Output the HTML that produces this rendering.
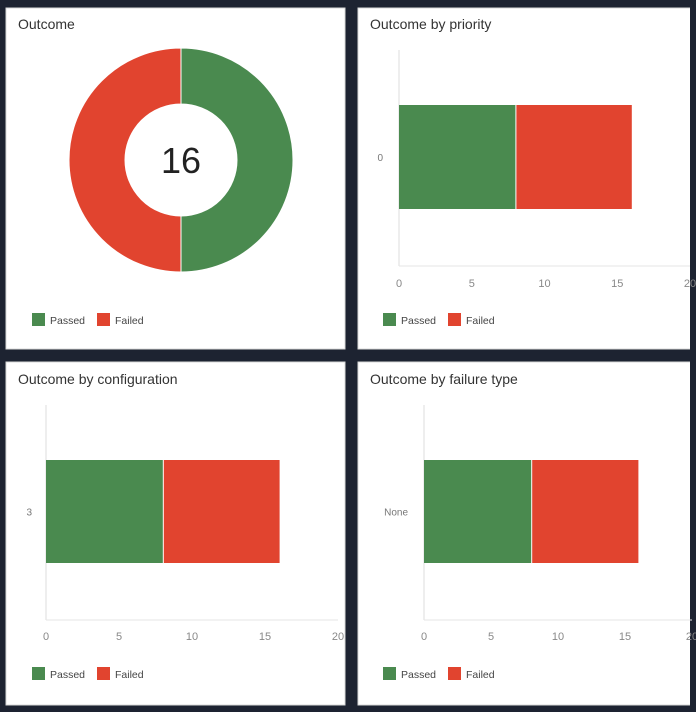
<!DOCTYPE html>
<html><head><meta charset="utf-8">
<style>
body{margin:0;width:696px;height:712px;background:#1d2331;overflow:hidden;font-family:"Liberation Sans",sans-serif}
svg{display:block}
</style></head><body>
<svg id="root" width="696" height="712">
<rect x="0" y="0" width="696" height="712" fill="#1d2331"/>
<rect x="6" y="8" width="339" height="341" fill="#fff" stroke="#d8d8d8"/>
<rect x="358" y="8" width="334" height="341" fill="#fff" stroke="#d8d8d8"/>
<rect x="6" y="362" width="339" height="343" fill="#fff" stroke="#d8d8d8"/>
<rect x="358" y="362" width="334" height="343" fill="#fff" stroke="#d8d8d8"/>
<rect x="690" y="0" width="6" height="712" fill="#1d2331"/>
<text x="18" y="29" font-size="14" fill="#333">Outcome</text>
<text x="370" y="29" font-size="14" fill="#333">Outcome by priority</text>
<text x="18" y="384" font-size="14" fill="#333">Outcome by configuration</text>
<text x="370" y="384" font-size="14" fill="#333">Outcome by failure type</text>
<g id="charts"></g>
</svg>
<script>
const seriesNames = ["Passed", "Failed"];
const seriesColors = ["#4a8a4f", "#e1442f"];
const donutValues = [8, 8];
const totalLabel = "16";
const priorityCategories = ["0"];
const priorityPassed = [8];
const priorityFailed = [8];
const configCategories = ["3"];
const configPassed = [8];
const configFailed = [8];
const failureCategories = ["None"];
const failurePassed = [8];
const failureFailed = [8];
const xTicks = [0, 5, 10, 15, 20];

const NS = "http://www.w3.org/2000/svg";
const g = document.getElementById("charts");
function mk(tag, attrs, parent) {
  const e = document.createElementNS(NS, tag);
  for (const k in attrs) e.setAttribute(k, attrs[k]);
  (parent || g).appendChild(e);
  return e;
}

// Donut
(function () {
  const cx = 181, cy = 160, ro = 112, ri = 56;
  const total = donutValues.reduce((a, b) => a + b, 0);
  let a0 = -Math.PI / 2;
  donutValues.forEach((v, i) => {
    const a1 = a0 + v / total * 2 * Math.PI;
    const large = (a1 - a0) > Math.PI ? 1 : 0;
    const p = (r, a) => [cx + r * Math.cos(a), cy + r * Math.sin(a)];
    const [x0, y0] = p(ro, a0), [x1, y1] = p(ro, a1), [x2, y2] = p(ri, a1), [x3, y3] = p(ri, a0);
    const path = mk("path", { d: `M${x0},${y0} A${ro},${ro} 0 ${large} 1 ${x1},${y1} L${x2},${y2} A${ri},${ri} 0 ${large} 0 ${x3},${y3} Z`, fill: seriesColors[i], stroke: "#fff", "stroke-width": 1 });
    
    
    a0 = a1;
  });
  const t = mk("text", { x: cx, y: cy + 13, "text-anchor": "middle", "font-size": 36, fill: "#222" });
  t.textContent = totalLabel;
  
  
})();

function legend(x, y) {
  seriesNames.forEach((n, i) => {
    const ox = x + i * 65;
    const r = mk("rect", { x: ox, y: y - 7, width: 13, height: 13, fill: seriesColors[i] });
    
    
    const t = mk("text", { x: ox + 18, y: y + 4, "font-size": 10.5, fill: "#444" });
    t.textContent = n;
    
    
  });
}
legend(32, 320);

function barChart(prefix, cats, passed, failed, ax, axTop, axBottom, x20, barTop, barBottom, labelX, tickY, legendX, legendY) {
  const xs = v => ax + (x20 - ax) * v / 20;
  const v = mk("line", { x1: ax, y1: axTop, x2: ax, y2: axBottom, stroke: "#ddd" });
  
  
  const h = mk("line", { x1: ax, y1: axBottom, x2: x20, y2: axBottom, stroke: "#e6e6e6" });
  
  
  xTicks.forEach(tv => {
    const t = mk("text", { x: xs(tv), y: tickY, "text-anchor": "middle", "font-size": 11, fill: "#888" });
    t.textContent = tv;
    
    
  });
  cats.forEach((c, i) => {
    const p = mk("rect", { x: xs(0), y: barTop, width: xs(passed[i]) - xs(0), height: barBottom - barTop, fill: seriesColors[0] });
    
    
    const f = mk("rect", { x: xs(passed[i]) + 1, y: barTop, width: xs(passed[i] + failed[i]) - xs(passed[i]) - 1, height: barBottom - barTop, fill: seriesColors[1] });
    
    
    const l = mk("text", { x: labelX, y: (barTop + barBottom) / 2 + 4, "text-anchor": "end", "font-size": 10, fill: "#777" });
    l.textContent = c;
    
    
  });
  legend(legendX, legendY);
}
barChart("priority", priorityCategories, priorityPassed, priorityFailed, 399, 50, 266, 690, 105, 209, 383, 287, 383, 320);
barChart("configuration", configCategories, configPassed, configFailed, 46, 405, 620, 338, 460, 563, 32, 640, 32, 674);
barChart("failure-type", failureCategories, failurePassed, failureFailed, 424, 405, 620, 692, 460, 563, 408, 640, 383, 674);
</script>
</body></html>
